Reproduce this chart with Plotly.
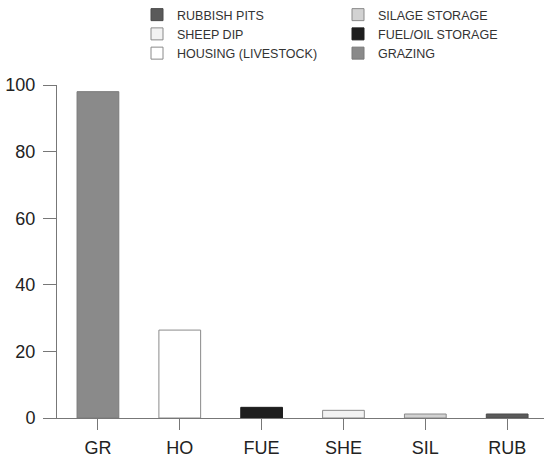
import plotly.graph_objects as go

categories = ["GR", "HO", "FUE", "SHE", "SIL", "RUB"]
values = [98, 26.4, 3.2, 2.3, 1.2, 1.2]
legend_names = ["GRAZING", "HOUSING (LIVESTOCK)", "FUEL/OIL STORAGE", "SHEEP DIP", "SILAGE STORAGE", "RUBBISH PITS"]
fill_colors = ["#8a8a8a", "#ffffff", "#1e1e1e", "#f2f2f2", "#d2d2d2", "#5a5a5a"]
line_colors = ["#7a7a7a", "#8a8a8a", "#1e1e1e", "#8a8a8a", "#8a8a8a", "#4a4a4a"]
# legend order (row-wise in a 2-column legend)
rank_order = {"RUBBISH PITS": 1, "SILAGE STORAGE": 2, "SHEEP DIP": 3,
              "FUEL/OIL STORAGE": 4, "HOUSING (LIVESTOCK)": 5, "GRAZING": 6}

fig = go.Figure()
for cat, val, name, fc, lc in zip(categories, values, legend_names, fill_colors, line_colors):
    fig.add_trace(go.Bar(
        x=[cat], y=[val], name=name, width=0.51,
        marker=dict(color=fc, line=dict(color=lc, width=1)),
        legendrank=rank_order[name],
    ))

fig.update_layout(
    width=544, height=459,
    margin=dict(l=57, r=0, t=85, b=41),
    barmode="overlay",
    plot_bgcolor="white", paper_bgcolor="white",
    font=dict(family="Liberation Sans, Arial, sans-serif", color="#222222"),
    showlegend=True,
    legend=dict(
        orientation="h", x=137 / 544, xref="container", xanchor="left",
        y=1, yref="container", yanchor="top",
        entrywidth=156, entrywidthmode="pixels",
        font=dict(size=12.5, color="#333333"),
        traceorder="normal", bgcolor="rgba(0,0,0,0)",
        tracegroupgap=0,
    ),
    xaxis=dict(
        categoryorder="array", categoryarray=categories,
        range=[-0.5, 5.45], automargin=False,
        showline=True, linecolor="#777777", linewidth=1,
        ticks="outside", ticklen=11, tickcolor="#777777", tickwidth=1,
        tickfont=dict(size=18, color="#222222"),
        ticklabelstandoff=2,
        showgrid=False, zeroline=False,
    ),
    yaxis=dict(
        range=[0, 100], tickvals=[0, 20, 40, 60, 80, 100], automargin=False,
        showline=True, linecolor="#777777", linewidth=1,
        ticks="outside", ticklen=13, tickcolor="#777777", tickwidth=1,
        tickfont=dict(size=18, color="#222222"),
        ticklabelstandoff=4,
        showgrid=False, zeroline=False,
    ),
)

fig.write_html("out.html")
